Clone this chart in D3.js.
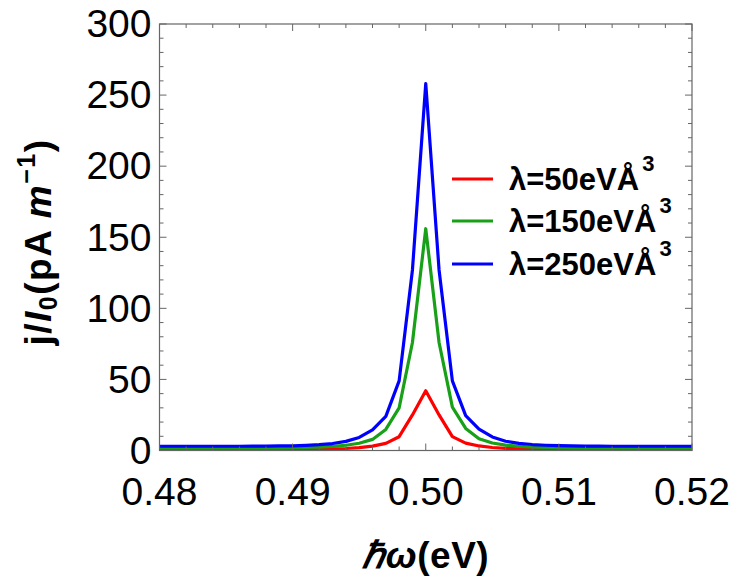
<!DOCTYPE html>
<html>
<head>
<meta charset="utf-8">
<script src="https://cdn.jsdelivr.net/npm/d3@7"></script>
<style>
  body { margin: 0; background: #fff; }
  svg { display: block; }
  text { font-family: "Liberation Sans", Arial, sans-serif; }
</style>
</head>
<body>
<svg id="chart" width="737" height="577"></svg>
<script>
// photon energy ħω (eV)
const energy = [0.480,0.481,0.482,0.483,0.484,0.485,0.486,0.487,0.488,0.489,
                0.490,0.491,0.492,0.493,0.494,0.495,0.496,0.497,0.498,0.499,
                0.500,0.501,0.502,0.503,0.504,0.505,0.506,0.507,0.508,0.509,
                0.510,0.511,0.512,0.513,0.514,0.515,0.516,0.517,0.518,0.519,0.520];
// j/I0 (pA m^-1)
const lambda50  = [0.7,0.7,0.7,0.7,0.7,0.7,0.7,0.7,0.7,0.7,
                   0.7,0.8,0.9,1.1,1.4,2.0,3.1,5.0,9.7,25,
                   42,
                   25,9.8,5.2,3.2,2.1,1.5,1.1,0.9,0.8,0.8,
                   0.7,0.7,0.7,0.7,0.7,0.7,0.7,0.7,0.7,0.7];
const lambda150 = [1.8,1.8,1.8,1.8,1.8,1.8,1.8,1.8,1.9,1.9,
                   2.0,2.1,2.4,2.9,3.7,5.1,7.8,14.8,30,76,
                   156,
                   76,30.5,15.5,8.2,5.3,3.8,2.9,2.4,2.1,2.0,
                   1.9,1.9,1.8,1.8,1.8,1.8,1.8,1.8,1.8,1.8];
const lambda250 = [3.0,3.0,3.0,3.0,3.0,3.0,3.0,3.1,3.1,3.2,
                   3.3,3.6,4.1,4.9,6.4,9.2,14.5,24,49,127,
                   258,
                   127,49,24.5,15,9.5,6.5,5.0,4.2,3.7,3.4,
                   3.2,3.1,3.1,3.0,3.0,3.0,3.0,3.0,3.0,3.0];
const seriesNames = ["λ=50eVÅ", "λ=150eVÅ", "λ=250eVÅ"];
const seriesColors = ["#ff0000", "#18a018", "#0000ff"];
const xTicks = [0.48, 0.49, 0.50, 0.51, 0.52];
const xTickLabels = ["0.48", "0.49", "0.50", "0.51", "0.52"];
const yTicks = [0, 50, 100, 150, 200, 250, 300];

const series = [lambda50, lambda150, lambda250];

const svg = d3.select("#chart");
const L = 159.5, R = 692, T = 24, B = 450.5;
const x = d3.scaleLinear().domain([0.48, 0.52]).range([L, R]);
const y = d3.scaleLinear().domain([0, 300]).range([B, T]);

const frameColor = "#666";

// curves (clipped to frame)
svg.append("clipPath").attr("id", "clip")
  .append("rect").attr("x", L).attr("y", T).attr("width", R - L).attr("height", B - T + 1);

const line = d3.line().x((d, i) => x(energy[i])).y(d => y(d));
const g = svg.append("g").attr("clip-path", "url(#clip)");
series.forEach((s, k) => {
  g.append("path").datum(s)
    .attr("d", line)
    .attr("fill", "none")
    .attr("stroke", seriesColors[k])
    .attr("stroke-width", 3.2)
    .attr("stroke-linejoin", "round");
});

// frame
svg.append("rect").attr("x", L).attr("y", T).attr("width", R - L).attr("height", B - T)
  .attr("fill", "none").attr("stroke", frameColor).attr("stroke-width", 1.2);

// ticks (inward, on all four sides)
const minorX = d3.range(0, 21).map(i => 0.48 + i * 0.002);
const minorY = d3.range(0, 31).map(i => i * 10);
const tk = svg.append("g").attr("stroke", frameColor).attr("stroke-width", 1);
minorX.forEach(v => {
  const major = Math.abs((v * 100) - Math.round(v * 100)) < 1e-6;
  const len = major ? 7 : 4;
  tk.append("line").attr("x1", x(v)).attr("x2", x(v)).attr("y1", B).attr("y2", B - len);
  tk.append("line").attr("x1", x(v)).attr("x2", x(v)).attr("y1", T).attr("y2", T + len);
});
minorY.forEach(v => {
  const major = v % 50 === 0;
  const len = major ? 7 : 4;
  tk.append("line").attr("x1", L).attr("x2", L + len).attr("y1", y(v)).attr("y2", y(v));
  tk.append("line").attr("x1", R).attr("x2", R - len).attr("y1", y(v)).attr("y2", y(v));
});

// tick labels
svg.append("g").selectAll("text").data(yTicks).join("text")
  .attr("x", L - 8).attr("y", d => y(d))
  .attr("dy", "0.34em")
  .attr("text-anchor", "end")
  .attr("font-size", 39)
  .attr("fill", "#000")
  .text(d => d);

svg.append("g").selectAll("text").data(xTicks).join("text")
  .attr("x", d => x(d)).attr("y", 505)
  .attr("text-anchor", "middle")
  .attr("font-size", 39)
  .attr("fill", "#000")
  .text((d, i) => xTickLabels[i]);

// axis labels
const xl = svg.append("text")
  .attr("x", (L + R) / 2).attr("y", 568)
  .attr("text-anchor", "middle")
  .attr("font-size", 37).attr("font-weight", "bold")
  .attr("letter-spacing", 0.5);
xl.append("tspan").attr("font-style", "italic").text("ℏω");
xl.append("tspan").text("(eV)");

const yl = svg.append("text")
  .attr("transform", "translate(51,242) rotate(-90)")
  .attr("text-anchor", "middle")
  .attr("font-size", 37).attr("font-weight", "bold")
  .attr("letter-spacing", 1.5);
yl.append("tspan").text("j/");
yl.append("tspan").attr("font-style", "italic").text("I");
yl.append("tspan").attr("font-size", 25).attr("dy", 6).text("0");
yl.append("tspan").attr("dy", -6).text("(pA ");
yl.append("tspan").attr("font-style", "italic").text("m");
yl.append("tspan").attr("font-size", 25).attr("dy", -16).text("−1");
yl.append("tspan").attr("dy", 16).text(")");

// legend
const legY = [179, 221, 264];
const leg = svg.append("g");
seriesNames.forEach((name, k) => {
  leg.append("line")
    .attr("x1", 452).attr("x2", 493).attr("y1", legY[k]).attr("y2", legY[k])
    .attr("stroke", seriesColors[k]).attr("stroke-width", 3.2);
  const t = leg.append("text")
    .attr("x", 509).attr("y", legY[k] + 11)
    .attr("font-size", 31).attr("font-weight", "bold");
  t.append("tspan").text(name);
  t.append("tspan").attr("font-size", 22).attr("dy", -19).attr("dx", 3).text("3");
});
</script>
</body>
</html>
